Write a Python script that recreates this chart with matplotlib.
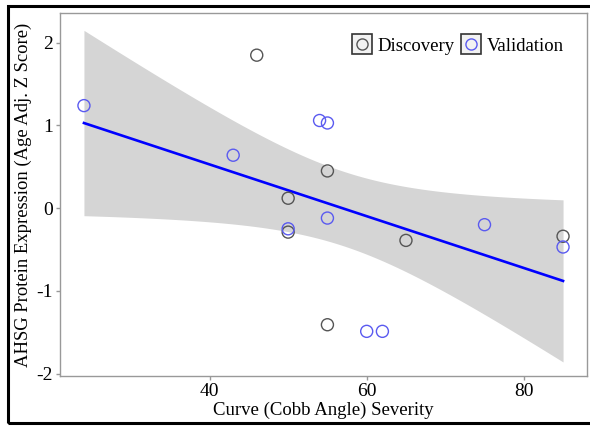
import numpy as np
import matplotlib
matplotlib.use("Agg")
import matplotlib.pyplot as plt
from matplotlib.lines import Line2D
from matplotlib.patches import Rectangle
from matplotlib.legend_handler import HandlerTuple

# Data
disc_x = [46, 50, 50, 55, 55, 65, 85]
disc_y = [1.85, 0.12, -0.29, 0.45, -1.41, -0.39, -0.34]
val_x = [24, 43, 54, 55, 50, 55, 75, 85, 60, 62]
val_y = [1.24, 0.64, 1.06, 1.03, -0.25, -0.12, -0.20, -0.47, -1.49, -1.49]
x_ticks = [40, 60, 80]
y_ticks = [-2, -1, 0, 1, 2]
x_label = "Curve (Cobb Angle) Severity"
y_label = "AHSG Protein Expression (Age Adj. Z Score)"
legend_labels = ["Discovery", "Validation"]

plt.rcParams['font.family'] = ['Liberation Serif', 'DejaVu Serif']
plt.rcParams['axes.unicode_minus'] = False

fig = plt.figure(figsize=(5.9, 4.26), dpi=100)
ax = fig.add_axes([60/590, 50/426, 527/590, 363/426])

# Regression with 95% CI
x_all = np.array(disc_x + val_x, dtype=float)
y_all = np.array(disc_y + val_y, dtype=float)
n = len(x_all)
b1, b0 = np.polyfit(x_all, y_all, 1)
resid = y_all - (b0 + b1 * x_all)
s = np.sqrt(np.sum(resid**2) / (n - 2))
xbar = x_all.mean()
sxx = np.sum((x_all - xbar)**2)
xs = np.linspace(x_all.min(), x_all.max(), 200)
ys = b0 + b1 * xs
tq = 2.1314  # t(0.975, df=15)
se = s * np.sqrt(1.0/n + (xs - xbar)**2 / sxx)
ax.fill_between(xs, ys - tq*se, ys + tq*se, color='#d5d5d5', lw=0, zorder=1)
ax.plot(xs, ys, color='#0000ff', lw=1.9, zorder=2)

disc_col = '#555555'
val_col = '#5a5af0'
ax.scatter(disc_x, disc_y, s=75, facecolors='none', edgecolors=disc_col, linewidths=1.0, zorder=3)
ax.scatter(val_x, val_y, s=75, facecolors='none', edgecolors=val_col, linewidths=1.0, zorder=3)

ax.set_xlim(20.95, 88.05)
ax.set_ylim(-2.03, 2.36)
ax.set_xticks(x_ticks)
ax.set_yticks(y_ticks)
for sp in ax.spines.values():
    sp.set_color('#999999')
    sp.set_linewidth(1.0)
ax.tick_params(axis='both', colors='#999999', length=3, width=1, labelcolor='black', labelsize=14, pad=2)
ax.set_xlabel(x_label, fontsize=13.5, labelpad=1)
ax.set_ylabel(y_label, fontsize=13.4, labelpad=3)

# Legend
sq = Line2D([], [], marker='s', ls='none', markersize=14.5, markerfacecolor='#f2f2f2',
            markeredgecolor='#333333', markeredgewidth=1.2)
c1 = Line2D([], [], marker='o', ls='none', markersize=8.0, markerfacecolor='none',
            markeredgecolor=disc_col, markeredgewidth=1.0)
c2 = Line2D([], [], marker='o', ls='none', markersize=8.0, markerfacecolor='none',
            markeredgecolor=val_col, markeredgewidth=1.0)
leg = ax.legend([(sq, c1), (sq, c2)], legend_labels,
                handler_map={tuple: HandlerTuple(ndivide=1, pad=0)},
                ncol=2, frameon=False, loc='center right',
                bbox_to_anchor=(0.974, 0.909), fontsize=13.5,
                handlelength=1.0, handletextpad=0.35, columnspacing=0.35, borderpad=0)

# Figure border
fig.patches.append(Rectangle((7.5/590, 3/426), 600/590, (426-5.5-3)/426,
                             transform=fig.transFigure, fill=False, ec='black', lw=2.2))

fig.savefig('out.png', dpi=100)
